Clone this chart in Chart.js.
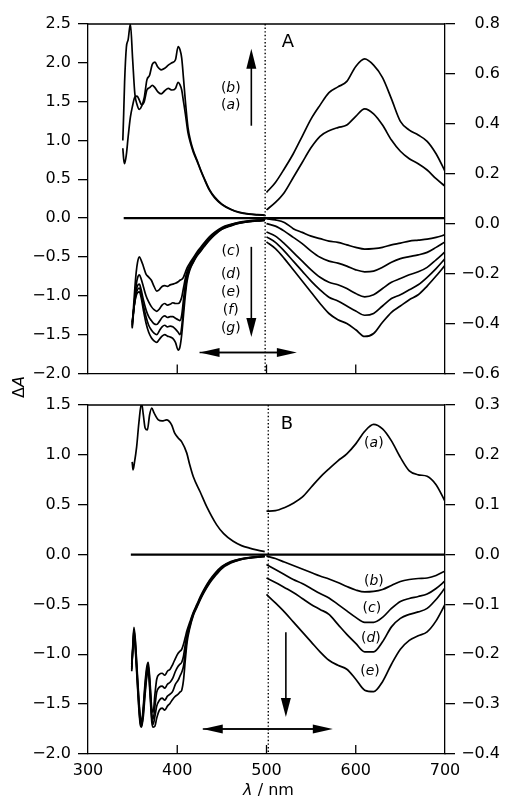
<!DOCTYPE html>
<html>
<head>
<meta charset="utf-8">
<script src="https://cdn.jsdelivr.net/npm/chart.js@4.4.1/dist/chart.umd.min.js"></script>
<style>
  body { margin: 0; background: #fff; }
  #wrap { position: relative; width: 505px; height: 798px; }
  canvas { position: absolute; left: 0; }
  #chartA { top: 0; }
  #chartB { top: 384px; }
  #ylab { position: absolute; left: -1px; top: 377px; width: 40px; height: 20px; line-height: 20px;
          text-align: center; font: 16px "DejaVu Sans"; transform: rotate(-90deg); }
</style>
</head>
<body>
<div id="wrap">
  <canvas id="chartA" width="505" height="390"></canvas>
  <canvas id="chartB" width="505" height="415"></canvas>
  <div id="ylab">Δ<i>A</i></div>
</div>
<script>
// ---------- panel A, UV part (left axis) ----------
const wlA_up = [339, 340, 341, 343, 345, 347.5, 350, 352.5, 355, 357.5, 360, 363, 366, 369, 372, 375, 378, 382, 386, 390, 394, 398, 401, 403, 405, 407, 409, 412, 415, 418, 422, 426, 430, 436, 442, 450, 460, 470, 480, 490, 498];
const A_b_uv = [1.00, 1.35, 1.75, 2.20, 2.30, 2.50, 2.05, 1.60, 1.46, 1.40, 1.44, 1.55, 1.78, 1.84, 1.98, 2.01, 1.95, 1.91, 1.93, 1.97, 2.00, 2.04, 2.21, 2.17, 2.06, 1.80, 1.52, 1.17, 0.99, 0.87, 0.75, 0.63, 0.52, 0.37, 0.27, 0.18, 0.115, 0.075, 0.055, 0.045, 0.04];
const A_a_uv = [0.90, 0.76, 0.70, 0.82, 1.05, 1.30, 1.45, 1.56, 1.57, 1.52, 1.46, 1.50, 1.65, 1.68, 1.71, 1.68, 1.63, 1.60, 1.64, 1.67, 1.65, 1.67, 1.75, 1.72, 1.65, 1.50, 1.35, 1.10, 0.96, 0.85, 0.74, 0.62, 0.51, 0.36, 0.26, 0.175, 0.11, 0.07, 0.05, 0.04, 0.035];

const wlA_down = [349.5, 351, 352.5, 354, 355.5, 357.5, 359.5, 362, 365, 368, 371, 374, 377, 380, 383, 386, 389, 392, 395, 398, 401, 403, 405, 407, 409, 411, 414, 418, 422, 426, 430, 436, 442, 450, 460, 470, 480, 490, 498];
const A_c_uv = [-1.40, -1.15, -0.90, -0.70, -0.57, -0.50, -0.54, -0.62, -0.72, -0.76, -0.80, -0.88, -0.94, -0.92, -0.88, -0.87, -0.88, -0.86, -0.85, -0.84, -0.82, -0.80, -0.79, -0.76, -0.70, -0.64, -0.58, -0.51, -0.44, -0.38, -0.32, -0.24, -0.18, -0.12, -0.08, -0.05, -0.035, -0.025, -0.02];
const A_d_uv = [-1.42, -1.22, -1.02, -0.86, -0.77, -0.73, -0.78, -0.88, -1.00, -1.08, -1.14, -1.18, -1.20, -1.17, -1.12, -1.10, -1.12, -1.11, -1.09, -1.10, -1.10, -1.08, -1.02, -0.90, -0.78, -0.69, -0.61, -0.53, -0.46, -0.40, -0.34, -0.26, -0.195, -0.13, -0.085, -0.057, -0.04, -0.03, -0.025];
const A_e_uv = [-1.38, -1.20, -1.05, -0.93, -0.87, -0.85, -0.92, -1.05, -1.18, -1.27, -1.32, -1.36, -1.37, -1.33, -1.28, -1.26, -1.28, -1.27, -1.27, -1.29, -1.31, -1.32, -1.25, -1.05, -0.86, -0.73, -0.63, -0.545, -0.47, -0.41, -0.35, -0.27, -0.20, -0.135, -0.09, -0.06, -0.042, -0.032, -0.027];
const A_f_uv = [-1.36, -1.20, -1.07, -0.97, -0.92, -0.90, -0.97, -1.12, -1.27, -1.38, -1.44, -1.48, -1.50, -1.45, -1.40, -1.38, -1.40, -1.39, -1.40, -1.43, -1.47, -1.50, -1.40, -1.15, -0.93, -0.77, -0.655, -0.56, -0.48, -0.42, -0.36, -0.28, -0.21, -0.14, -0.095, -0.063, -0.045, -0.034, -0.028];
const A_g_uv = [-1.34, -1.20, -1.08, -1.00, -0.96, -0.95, -1.02, -1.18, -1.35, -1.47, -1.54, -1.58, -1.60, -1.56, -1.52, -1.50, -1.52, -1.53, -1.55, -1.60, -1.70, -1.66, -1.50, -1.25, -1.00, -0.81, -0.67, -0.57, -0.49, -0.43, -0.37, -0.285, -0.215, -0.145, -0.10, -0.066, -0.047, -0.036, -0.03];

// ---------- visible part (right axis), shared wavelengths ----------
const wlVis = [500, 510, 520, 530, 540, 550, 560, 570, 580, 590, 600, 610, 620, 630, 640, 650, 660, 670, 680, 690, 700];
const A_b_vis = [0.125, 0.165, 0.22, 0.28, 0.35, 0.42, 0.475, 0.525, 0.548, 0.57, 0.63, 0.66, 0.635, 0.585, 0.50, 0.41, 0.375, 0.355, 0.33, 0.28, 0.21];
const A_a_vis = [0.055, 0.085, 0.125, 0.185, 0.245, 0.305, 0.35, 0.372, 0.385, 0.395, 0.43, 0.46, 0.44, 0.395, 0.335, 0.29, 0.26, 0.24, 0.215, 0.18, 0.15];
const A_c_vis = [0.02, 0.015, 0.005, -0.02, -0.035, -0.05, -0.06, -0.07, -0.075, -0.085, -0.095, -0.102, -0.10, -0.095, -0.085, -0.078, -0.07, -0.066, -0.062, -0.055, -0.045];
const A_d_vis = [0.0, -0.01, -0.03, -0.055, -0.08, -0.11, -0.135, -0.15, -0.158, -0.17, -0.185, -0.193, -0.19, -0.175, -0.155, -0.14, -0.132, -0.125, -0.115, -0.095, -0.073];
const A_e_vis = [-0.033, -0.05, -0.08, -0.115, -0.15, -0.185, -0.215, -0.235, -0.245, -0.26, -0.28, -0.293, -0.285, -0.26, -0.235, -0.22, -0.205, -0.193, -0.175, -0.145, -0.113];
const A_f_vis = [-0.053, -0.075, -0.11, -0.15, -0.19, -0.23, -0.265, -0.295, -0.31, -0.33, -0.35, -0.367, -0.36, -0.33, -0.30, -0.285, -0.265, -0.245, -0.215, -0.18, -0.14];
const A_g_vis = [-0.073, -0.10, -0.14, -0.185, -0.23, -0.275, -0.32, -0.36, -0.385, -0.40, -0.425, -0.452, -0.44, -0.395, -0.355, -0.33, -0.305, -0.285, -0.25, -0.21, -0.167];

// ---------- panel B, UV part ----------
const wlB_up = [349.5, 350.5, 352, 354.5, 357, 360, 362, 364, 366.5, 369, 371.4, 374, 378.8, 383, 388, 393.7, 397, 401, 405, 410.6, 414, 418, 425.6, 433, 444, 452, 462.7, 472, 481, 490, 498];
const B_a_uv = [0.93, 0.85, 0.92, 1.08, 1.32, 1.52, 1.40, 1.27, 1.25, 1.40, 1.47, 1.42, 1.35, 1.34, 1.35, 1.30, 1.22, 1.17, 1.13, 1.02, 0.90, 0.78, 0.63, 0.48, 0.30, 0.21, 0.133, 0.09, 0.065, 0.045, 0.03];

const wlB_down = [349, 350.5, 351.5, 353, 355, 357, 358.5, 360, 362, 364, 366, 367.5, 369.5, 371.5, 373, 375, 377, 380, 383, 386, 389, 392, 395, 398, 401, 403, 405, 407, 409, 411, 414, 418, 422, 426, 430, 436, 442, 450, 460, 470, 480, 490, 498];
const B_b_uv = [-1.17, -0.85, -0.73, -0.85, -1.15, -1.45, -1.62, -1.68, -1.52, -1.28, -1.12, -1.08, -1.28, -1.55, -1.58, -1.40, -1.25, -1.20, -1.19, -1.21, -1.17, -1.15, -1.10, -1.04, -0.99, -0.97, -0.95, -0.90, -0.83, -0.76, -0.68, -0.58, -0.50, -0.42, -0.35, -0.26, -0.19, -0.12, -0.07, -0.045, -0.03, -0.02, -0.015];
const B_c_uv = [-1.15, -0.88, -0.76, -0.88, -1.18, -1.48, -1.65, -1.70, -1.55, -1.32, -1.15, -1.11, -1.32, -1.60, -1.65, -1.52, -1.38, -1.33, -1.32, -1.34, -1.30, -1.28, -1.24, -1.17, -1.12, -1.10, -1.08, -1.02, -0.90, -0.80, -0.70, -0.59, -0.51, -0.43, -0.36, -0.27, -0.20, -0.125, -0.075, -0.048, -0.032, -0.022, -0.017];
const B_d_uv = [-1.13, -0.90, -0.79, -0.92, -1.22, -1.52, -1.68, -1.72, -1.58, -1.36, -1.19, -1.14, -1.36, -1.64, -1.70, -1.62, -1.52, -1.46, -1.44, -1.46, -1.42, -1.40, -1.37, -1.30, -1.26, -1.22, -1.18, -1.12, -0.98, -0.84, -0.72, -0.60, -0.52, -0.44, -0.37, -0.28, -0.21, -0.13, -0.08, -0.05, -0.034, -0.024, -0.019];
const B_e_uv = [-1.10, -0.92, -0.82, -0.95, -1.25, -1.55, -1.70, -1.73, -1.62, -1.40, -1.22, -1.17, -1.40, -1.68, -1.73, -1.72, -1.64, -1.56, -1.54, -1.56, -1.52, -1.49, -1.45, -1.42, -1.40, -1.38, -1.36, -1.26, -1.06, -0.88, -0.74, -0.61, -0.53, -0.45, -0.38, -0.29, -0.22, -0.14, -0.085, -0.053, -0.036, -0.026, -0.02];

const B_a_vis = [0.087, 0.088, 0.094, 0.103, 0.115, 0.135, 0.155, 0.172, 0.188, 0.202, 0.222, 0.247, 0.261, 0.252, 0.228, 0.195, 0.168, 0.16, 0.157, 0.14, 0.107];
const B_b_vis = [-0.003, -0.008, -0.015, -0.022, -0.029, -0.036, -0.043, -0.049, -0.056, -0.064, -0.071, -0.075, -0.074, -0.07, -0.062, -0.054, -0.05, -0.048, -0.047, -0.042, -0.033];
const B_c_vis = [-0.02, -0.03, -0.04, -0.05, -0.058, -0.068, -0.078, -0.087, -0.10, -0.113, -0.126, -0.136, -0.136, -0.126, -0.108, -0.094, -0.088, -0.084, -0.079, -0.068, -0.053];
const B_d_vis = [-0.047, -0.056, -0.066, -0.076, -0.088, -0.10, -0.11, -0.12, -0.14, -0.16, -0.178, -0.195, -0.195, -0.175, -0.145, -0.128, -0.12, -0.115, -0.108, -0.09, -0.067];
const B_e_vis = [-0.08, -0.097, -0.115, -0.135, -0.155, -0.175, -0.195, -0.212, -0.222, -0.23, -0.25, -0.272, -0.275, -0.255, -0.22, -0.19, -0.172, -0.163, -0.155, -0.133, -0.10];

// zero lines
const baseA = [340, 700];
const baseB = [348, 700];
const zeros = [0, 0];

const innerTicks = [400, 500, 600];

Chart.defaults.font.family = 'DejaVu Sans';
Chart.defaults.font.size = 16;
Chart.defaults.color = '#000';

function zip(wl, vals) {
  return wl.map((w, i) => ({ x: w, y: vals[i] }));
}

function line(wl, vals, axis, width) {
  return {
    data: zip(wl, vals),
    yAxisID: axis,
    borderColor: '#000',
    borderWidth: width || 1.7,
    pointRadius: 0,
    fill: false,
    cubicInterpolationMode: 'monotone'
  };
}

function fmt(v) {
  if (Math.abs(v) < 1e-9) v = 0;
  return v.toFixed(1).replace('-', '\u2212');
}

function arrowHead(ctx, tx, ty, dx, dy, len, w) {
  ctx.beginPath();
  ctx.moveTo(tx, ty);
  ctx.lineTo(tx - dx * len - dy * w / 2, ty - dy * len + dx * w / 2);
  ctx.lineTo(tx - dx * len + dy * w / 2, ty - dy * len - dx * w / 2);
  ctx.closePath();
  ctx.fill();
}

// labels like (a) with an italic letter
function tag(ctx, letter, cx, cy) {
  const up = '14px "DejaVu Sans"', it = 'italic 14px "DejaVu Sans"';
  ctx.font = up; const wp = ctx.measureText('(').width;
  ctx.font = it; const wl = ctx.measureText(letter).width;
  ctx.font = up; const wq = ctx.measureText(')').width;
  let x = cx - (wp + wl + wq) / 2;
  ctx.textBaseline = 'middle'; ctx.textAlign = 'left';
  ctx.font = up; ctx.fillText('(', x, cy); x += wp;
  ctx.font = it; ctx.fillText(letter, x, cy); x += wl;
  ctx.font = up; ctx.fillText(')', x, cy);
}

// frame, inner ticks, dotted divider, arrows and labels
const decor = {
  id: 'decor',
  afterDraw(chart, args, opts) {
    const { ctx, chartArea: a, scales } = chart;
    const X = v => scales.x.getPixelForValue(v);
    const Y = v => scales.yL.getPixelForValue(v);
    ctx.save();
    ctx.strokeStyle = '#000';
    ctx.fillStyle = '#000';
    ctx.lineWidth = 1.3;
    ctx.beginPath();
    ctx.moveTo(a.left, a.top); ctx.lineTo(a.right, a.top);
    innerTicks.forEach(t => { ctx.moveTo(X(t), a.bottom); ctx.lineTo(X(t), a.bottom - 9); });
    ctx.stroke();

    ctx.setLineDash([1.4, 2.2]);
    ctx.lineWidth = 1.4;
    ctx.beginPath();
    ctx.moveTo(X(opts.divider), a.top); ctx.lineTo(X(opts.divider), a.bottom);
    ctx.stroke();
    ctx.setLineDash([]);

    ctx.lineWidth = 1.6;
    opts.arrows.forEach(ar => {
      const x1 = X(ar.from[0]), y1 = Y(ar.from[1]), x2 = X(ar.to[0]), y2 = Y(ar.to[1]);
      const d = Math.hypot(x2 - x1, y2 - y1), dx = (x2 - x1) / d, dy = (y2 - y1) / d;
      ctx.beginPath(); ctx.moveTo(x1, y1); ctx.lineTo(x2 - dx * 10, y2 - dy * 10); ctx.stroke();
      arrowHead(ctx, x2, y2, dx, dy, ar.len, ar.w);
      if (ar.both) {
        ctx.beginPath(); ctx.moveTo(x1 + dx * 10, y1 + dy * 10); ctx.lineTo(x2 - dx * 10, y2 - dy * 10); ctx.stroke();
        arrowHead(ctx, x1, y1, -dx, -dy, ar.len, ar.w);
      }
    });

    opts.tags.forEach(t => tag(ctx, t[0], X(t[1]), Y(t[2])));

    ctx.font = '18px "DejaVu Sans"';
    ctx.textAlign = 'center'; ctx.textBaseline = 'middle';
    ctx.fillText(opts.panel[0], X(opts.panel[1]), Y(opts.panel[2]));

    if (opts.xtitle) {
      ctx.font = 'italic 16px "DejaVu Sans"';
      const w1 = ctx.measureText('λ').width;
      ctx.font = '16px "DejaVu Sans"';
      const w2 = ctx.measureText(' / nm').width;
      const x0 = (a.left + a.right) / 2 + 2 - (w1 + w2) / 2;
      ctx.textAlign = 'left';
      ctx.font = 'italic 16px "DejaVu Sans"'; ctx.fillText('λ', x0, chart.height - 8);
      ctx.font = '16px "DejaVu Sans"'; ctx.fillText(' / nm', x0 + w1, chart.height - 8);
    }
    ctx.restore();
  }
};

function yAxis(pos, min, max, step, width, pad) {
  return {
    type: 'linear', position: pos, min: min, max: max,
    ticks: { stepSize: step, callback: fmt, padding: pad, crossAlign: pos === 'right' ? 'far' : 'near' },
    grid: { drawOnChartArea: false, tickLength: 10, color: '#000', lineWidth: 1.3 },
    border: { color: '#000', width: 1.3 },
    afterFit: s => { s.width = width; }
  };
}

function xAxis(showLabels, height) {
  return {
    type: 'linear', min: 300, max: 700,
    ticks: { display: showLabels, stepSize: 100, padding: 7, callback: v => String(v) },
    grid: { drawOnChartArea: false, drawTicks: false },
    border: { color: '#000', width: 1.3 },
    afterFit: s => { s.height = height; }
  };
}

const commonOpts = {
  responsive: false,
  animation: false,
  devicePixelRatio: 1,
  events: []
};

// panel A
const ctxA = document.getElementById('chartA');
new Chart(ctxA, {
  type: 'line',
  data: {
    datasets: [
      line(baseA, zeros, 'yL', 2.2),
      line(wlA_up, A_a_uv, 'yL'),
      line(wlA_up, A_b_uv, 'yL'),
      line(wlA_down, A_c_uv, 'yL'),
      line(wlA_down, A_d_uv, 'yL'),
      line(wlA_down, A_e_uv, 'yL'),
      line(wlA_down, A_f_uv, 'yL'),
      line(wlA_down, A_g_uv, 'yL'),
      line(wlVis, A_a_vis, 'yR'),
      line(wlVis, A_b_vis, 'yR'),
      line(wlVis, A_c_vis, 'yR'),
      line(wlVis, A_d_vis, 'yR'),
      line(wlVis, A_e_vis, 'yR'),
      line(wlVis, A_f_vis, 'yR'),
      line(wlVis, A_g_vis, 'yR')
    ]
  },
  options: {
    ...commonOpts,
    layout: { autoPadding: false, padding: { top: 24, left: 0, right: 5, bottom: 0 } },
    scales: {
      x: xAxis(false, 12),
      yL: yAxis('left', -2, 2.5, 0.5, 88, 7),
      yR: yAxis('right', -0.6, 0.8, 0.2, 55, 2)
    },
    plugins: {
      legend: { display: false },
      tooltip: { enabled: false },
      decor: {
        divider: 498.5,
        panel: ['A', 524, 2.27],
        arrows: [
          { from: [483, 1.19], to: [483, 2.18], len: 20, w: 10 },
          { from: [483, -0.37], to: [483, -1.53], len: 19, w: 10 },
          { from: [425, -1.73], to: [534, -1.73], len: 20, w: 9, both: true }
        ],
        tags: [['b', 460, 1.67], ['a', 460, 1.45], ['c', 460, -0.43], ['d', 460, -0.72],
               ['e', 460, -0.96], ['f', 460, -1.19], ['g', 460, -1.42]]
      }
    }
  },
  plugins: [decor]
});

// panel B
const ctxB = document.getElementById('chartB');
new Chart(ctxB, {
  type: 'line',
  data: {
    datasets: [
      line(baseB, zeros, 'yL', 2.2),
      line(wlB_up, B_a_uv, 'yL'),
      line(wlB_down, B_b_uv, 'yL'),
      line(wlB_down, B_c_uv, 'yL'),
      line(wlB_down, B_d_uv, 'yL'),
      line(wlB_down, B_e_uv, 'yL'),
      line(wlVis, B_a_vis, 'yR'),
      line(wlVis, B_b_vis, 'yR'),
      line(wlVis, B_c_vis, 'yR'),
      line(wlVis, B_d_vis, 'yR'),
      line(wlVis, B_e_vis, 'yR')
    ]
  },
  options: {
    ...commonOpts,
    layout: { autoPadding: false, padding: { top: 21, left: 0, right: 5, bottom: 0 } },
    scales: {
      x: xAxis(true, 45),
      yL: yAxis('left', -2, 1.5, 0.5, 88, 7),
      yR: yAxis('right', -0.4, 0.3, 0.1, 55, 2)
    },
    plugins: {
      legend: { display: false },
      tooltip: { enabled: false },
      decor: {
        divider: 502,
        panel: ['B', 523, 1.31],
        arrows: [
          { from: [521.7, -0.78], to: [521.7, -1.63], len: 19, w: 10 },
          { from: [428.6, -1.75], to: [574.3, -1.75], len: 20, w: 9, both: true }
        ],
        tags: [['a', 620.3, 1.12], ['b', 620.3, -0.27], ['c', 618, -0.54], ['d', 617, -0.84], ['e', 616, -1.17]],
        xtitle: true
      }
    }
  },
  plugins: [decor]
});
</script>
</body>
</html>
